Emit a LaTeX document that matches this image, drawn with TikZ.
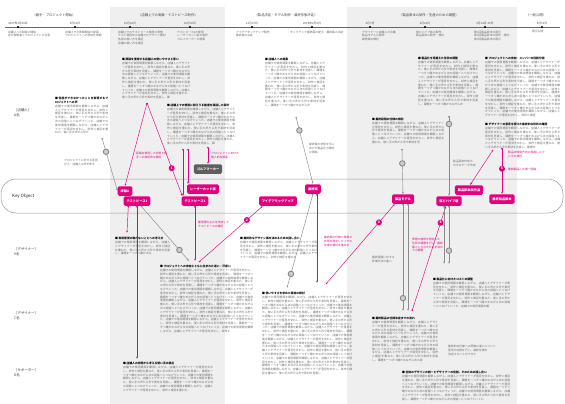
\documentclass[tikz,border=0pt]{standalone}
\usepackage{fontspec}
\usepackage{xstring}
\setmainfont{Noto Sans CJK JP}
\usetikzlibrary{arrows.meta,calc}
\XeTeXlinebreaklocale "ja"
\XeTeXlinebreakskip=0pt plus 0.6pt
\definecolor{mg}{HTML}{E4007F}
\definecolor{bgg}{HTML}{EFEFEF}
\definecolor{tx}{HTML}{6A6A6A}
\definecolor{ln}{HTML}{8A8A8A}
\definecolor{dk}{HTML}{5E5E5E}
\newcommand\smp{店舗での使用場面を観察しながら、店舗人とデザイナーが意見を交わし、試作と検証を重ねた。使い手の声から形や素材を見直し、課題を一つずつ確かめながら次の段階へとつなげていった。}
\edef\bigtext{\smp\smp\smp\smp\smp\smp\smp\smp\smp\smp}
\newcommand\blk[6]{%
 \node[blk, text width=#4pt] (#1) at (#2,#3) {{\bfseries\color{black}■ #5}\par \StrLeft{\bigtext}{#6}};}
\tikzset{
 blk/.style={anchor=north west, inner sep=0pt, align=justify, text=tx, font=\fontsize{2.8}{3.8}\selectfont},
 sm/.style={anchor=north west, inner sep=0pt, align=left, text=tx, font=\fontsize{2.8}{3.8}\selectfont},
 smp/.style={sm, text=mg},
 hdr/.style={inner sep=0pt, text=black!75, font=\fontsize{3.3}{4}\selectfont},
 date/.style={anchor=south, inner sep=0pt, text=black!70, font=\fontsize{2.8}{3.4}\selectfont},
 role/.style={anchor=west, inner sep=0pt, align=left, text=black!80, font=\fontsize{3.4}{5.2}\selectfont},
 tdot/.style={circle, fill=black, inner sep=0pt, minimum size=2.2pt},
 pnode/.style={fill=mg, rounded corners=1.5pt, text=white, font=\fontsize{3.2}{3.6}\selectfont\bfseries, inner xsep=3pt, inner ysep=2pt, minimum height=9.5pt},
 dnode/.style={pnode, fill=dk},
 pk/.style={draw=mg, line width=0.45pt, {Circle[length=1.6pt]}-{Latex[length=2.2pt,width=1.8pt]}},
 gy/.style={draw=ln, line width=0.45pt, {Circle[length=1.6pt]}-{Latex[length=2.2pt,width=1.8pt]}},
 pcirc/.style={circle, fill=mg, text=white, inner sep=0pt, minimum size=6pt, font=\fontsize{3.4}{3.4}\selectfont\bfseries},
 gcirc/.style={circle, draw=ln, fill=black!20, line width=0.9pt, inner sep=0pt, minimum size=5.5pt},
}
\begin{document}
\begin{tikzpicture}[x=1pt,y=-1pt]
\useasboundingbox (0,0) rectangle (565,404);
\fill[white] (0,0) rectangle (565,404);
\fill[bgg] (110,7) rectangle (225,404);
\fill[bgg] (347,7) rectangle (517,404);
% phase headers
\node[hdr] (h1) at (54,15) {〈着手・プロジェクト開始〉};
\node[hdr] (h2) at (168,15) {〈店舗上での実験・テストピース制作〉};
\node[hdr] (h3) at (286,15) {〈製品決定・モデル制作・最終形態決定〉};
\node[hdr] (h4) at (429,15) {〈製品原本の試作・生産のための調整〉};
\node[hdr] (h5) at (536,15) {〈一般公開〉};
% timeline
\coordinate (tl0) at (5,27);
\coordinate (tl1) at (560,27);
\draw[black!60, line width=0.4pt] (tl0) -- (tl1);
\foreach \n/\x/\d in {a/18/2017年1月26日, b/75/5月31日, c/130/10月16日, d/190/10月30日, e/252/11月27日, f/312/2018年2月5日, g/370/3月7日, h/425/4月25日, i/485/5月14日-19日, j/542/5月31日}{
 \node[tdot] (dot\n) at (\x,27) {};
 \node[date] (dt\n) at (\x,24.5) {\d};
}
\node[sm] (la) at (8,30.5) {店舗人への相談の開始\\店の関係者とプロジェクトの合意};
\node[sm] (lb) at (65,30.5) {店舗上での実験開始の提案\\プロジェクトへの参加を依頼};
\node[sm] (lc) at (118,30.5) {店舗上でのテストピース使用の実施\\テスト使用中の店舗でのデザイン検討\\各段の使い方を検証\\店舗の使い方を検証};
\node[sm] (ld) at (177,30.5) {テストピース2の使用\\レーザーカット版の製作\\ゴルフマーカーの提案};
\node[sm] (le) at (236,30.5) {アイデアモックアップ製作\\最終案の決定};
\node[sm] (lf) at (290,30.5) {モックアップ最終案の提示・最終案の決定};
\node[sm] (lg) at (362,30.5) {デザイナーと店舗人の合議\\製品モデルの製作\\最終案の検討};
\node[sm] (lh) at (416,30.5) {塩ビパイプ版の製作\\製品原本の製作・検討};
\node[sm] (li) at (474,30.5) {第1回製品原本の展示\\第2回製品原本の試作・検討\\第3回製品原本の展示};
\node[sm] (lj) at (532,30.5) {展示公開};
% roles
\node[role] (r1) at (14,113) {［店舗人］\\A名};
\node[role] (r2) at (14,252) {［デザイナー］\\9名};
\node[role] (r3) at (14,316) {［デザイナー］\\C名};
\node[role] (r4) at (14,373) {［サポーター］\\D名};
% key object band
\node[draw=black!40, line width=0.5pt, rounded corners=15pt, minimum width=562pt, minimum height=34pt, inner sep=0pt] (band) at (282,196) {};
\node[anchor=west, inner sep=0pt, font=\fontsize{4.4}{5}\selectfont, text=black!85] (ko) at (12,196) {Key Object};
% text blocks
\blk{bA}{122}{58}{68}{原稿を使用する店舗人の使いやすさと思い}{232}
\blk{bB}{55}{97}{53}{何度ができなかったことを実現するプロジェクトへの声}{138}
\blk{bC}{167}{104}{68}{店舗上での使用に耐えうる強度を目指した設計}{232}
\blk{bD}{265}{58}{60}{店舗人への提案}{245}
\blk{bE}{418}{57}{60}{製品化を見据えた形状の調整}{245}
\blk{bF}{485}{57}{75}{プロジェクトへの参加・メンバーの役割分担}{382}
\blk{bG}{372}{118}{72}{最終段階の仕様の検討}{142}
\blk{bH}{485}{123}{75}{デザイナーの意見を受けた最終的な形状の確認}{148}
\blk{bI}{115}{237}{55}{実用感覚の取れないことへの考え方}{70}
\blk{bJ}{160}{265}{93}{プロジェクトへの参加とともに生まれた迷い・戸惑い}{552}
\blk{bK}{240}{237}{77}{最終的なデザイン案を決めるための話し合い}{128}
\blk{bL}{262}{292}{90}{使いやすさを求めた素材の検討}{660}
\blk{bM}{123}{362}{90}{店舗人の状態から考える使い手の視点}{215}
\blk{bN}{372}{317}{66}{最終製品の仕様決定までの流れ}{247}
\blk{bO}{433}{278}{77}{製品化に向けたコストの調整}{182}
\blk{bP}{402}{371}{108}{全体のデザインの統一とデザイナーの役割、そのための話し合い}{258}
% small annotations
\node[sm] (t1) at (64,159) {プロジェクトに対する意見\\から、店舗人の声を知る};
\node[smp] (t2) at (136,152) {原稿を使用した状態と相\\手への技術的な検討};
\node[smp] (t3) at (211,152) {プロジェクトに向けた\\個人的な提案};
\node[sm] (t4) at (309,143) {最終案の状態を元に\\向けた製品化の検討\\の開始};
\node[smp] (t5) at (198,221) {最低限のものを作成して\\テストピースの検証};
\node[smp] (t6) at (324,236) {最終案の仕様と使用の\\状態を特定した上での\\仕様の検討を進める};
\node[sm] (t7) at (453,160) {製品原本作成の\\大きなデータ作成};
\node[smp] (t8) at (508,151) {製品の開発方向の見直しにつ\\いての検討};
\node[smp] (t9) at (508,168) {最終製品への第一段階};
\node[smp] (t10) at (412,238) {実際の使用を想定した\\形状の調整を行い、最終\\案としてのかたちを決め\\ての調整};
\node[sm] (t11) at (372,256) {最終段階に対する\\評価方法の違い};
\node[sm] (t12) at (448,345) {最終的な仕様への評価の違いについて\\意見の交換を行い、最終仕様を\\決定することができた};
% key objects
\node[pnode] (genA) at (125,191) {原稿A};
\node[pnode] (tp1) at (137,201) {テストピース1};
\node[pnode] (laser) at (203,189) {レーザーカット版};
\node[pnode] (tp2) at (195,201) {テストピース2};
\node[dnode] (golf) at (208,169) {ゴルフマーカー};
\node[pnode] (mock) at (278,201) {アイデアモックアップ};
\node[pnode] (final) at (313,189) {最終案};
\node[pnode] (model) at (403,199) {製品モデル};
\node[pnode] (orig) at (469,190) {製品原本試作品};
\node[pnode] (pipe) at (449,201) {塩ビパイプ版};
\node[pnode] (forig) at (502,199) {最終製品原本};
% connector coordinates
\coordinate (pA) at (147,103);
\coordinate (cL1) at (183,149);
\coordinate (cL2) at (188,149);
\coordinate (cG) at (208,147);
\coordinate (cJ1) at (195,261);
\coordinate (cJ2) at (199,262);
\coordinate (cM1) at (137,359);
\coordinate (cI1) at (127,233);
\coordinate (cB) at (102,138);
\coordinate (cJ3) at (189,261);
\coordinate (cD) at (296,117);
\coordinate (cLb) at (287,288);
\coordinate (cL3) at (317,283);
\coordinate (cL4) at (326,284);
\coordinate (cGt) at (402,149);
\coordinate (cN1) at (403,311);
\coordinate (cN3) at (408,311);
\coordinate (cE) at (449,116);
\coordinate (cO) at (449,264);
\coordinate (cO2) at (444,264);
\coordinate (cH) at (493,150);
\coordinate (cF) at (502,148);
\coordinate (cN2) at (412,311);
% pink connectors
\draw[pk] (pA) -- (genA.north);
\draw[pk] (pA) -- node[pcirc, pos=0.7] (n1) {1} ($(tp2.north west)+(1,0)$);
\draw[pk] (cL1) -- (cL1 |- tp2.north);
\draw[pk] (cL2) -- (cL2 |- laser.north);
\draw[pk] (cG) -- (golf.north);
\draw[pk] (tp2.south) -- (cJ1);
\draw[pk] (cJ2) -- node[pcirc, pos=0.75] (n2) {2} ($(mock.south west)+(4,0)$);
\draw[pk] (tp1.south) -- (cM1);
\draw[pk] ($(tp1.south west)+(5,0)$) -- (cI1);
\draw[pk] ($(final.south)+(4,0)$) -- (cL3);
\draw[pk] (cL4) -- node[pcirc, pos=0.77] (n3) {3} ($(model.south west)+(3,0)$);
\draw[pk] (cH) -- ($(orig.north)+(1,0)$);
\draw[pk] (cF) -- node[pcirc, pos=0.45] (n5) {5} (forig.north);
\draw[pk] (cN2) -- node[pcirc, pos=0.84] (n4) {4} ($(pipe.south)+(-3,0)$);
% gray connectors
\draw[gy] (cB) -- node[gcirc, pos=0.26] (g1) {} (genA.west);
\draw[gy] ($(tp1.south)+(4,0)$) -- node[gcirc, pos=0.8] (g2) {} (cJ3);
\draw[gy] (cD) -- node[gcirc, pos=0.2] (g3) {} (final.north);
\draw[gy] (final.south) -- node[gcirc, pos=0.85] (g4) {} (cLb);
\draw[gy] (cGt) -- node[gcirc, pos=0.32] (g5) {} (model.north);
\draw[gy] (model.south) -- node[gcirc, pos=0.88] (g6) {} (cN1);
\draw[gy] ($(model.south)+(5,0)$) -- (cN3);
\draw[gy] (cE) -- node[gcirc, pos=0.1] (g7) {} (pipe.north);
\draw[gy] (pipe.south) -- node[gcirc, pos=0.77] (g8) {} (cO);
\draw[gy] ($(pipe.south)+(-5,0)$) -- (cO2);
\end{tikzpicture}
\end{document}
